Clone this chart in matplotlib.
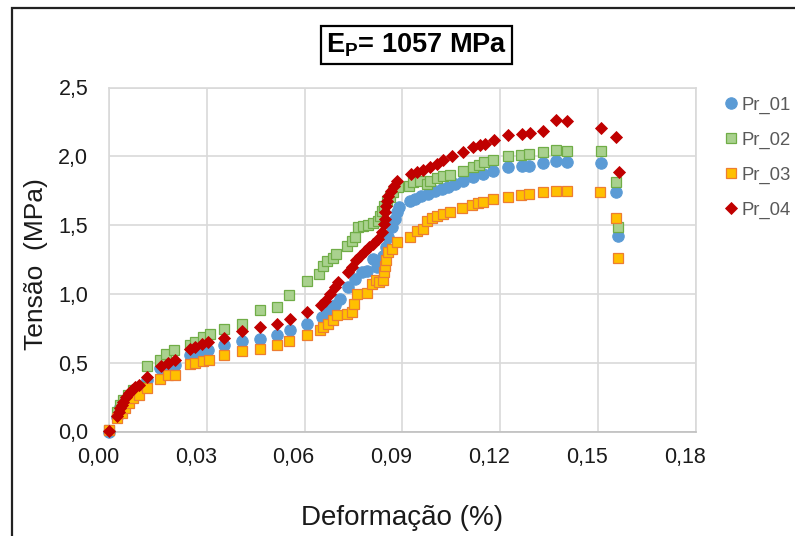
import matplotlib
matplotlib.use("Agg")
import matplotlib.pyplot as plt
from matplotlib.patches import Rectangle
from matplotlib.transforms import ScaledTranslation

plt.rcParams['font.family'] = ['Liberation Sans', 'DejaVu Sans']
plt.rcParams['mathtext.fontset'] = 'custom'
plt.rcParams['mathtext.rm'] = 'Liberation Sans'
plt.rcParams['mathtext.bf'] = 'Liberation Sans:bold'

# Strain (%) / stress (MPa) readings for each specimen
pr01_x = [0.0, 0.0023, 0.0034, 0.0044, 0.0059, 0.0075, 0.0090, 0.0116, 0.0156, 0.0182,
          0.0202, 0.0248, 0.0264, 0.0284, 0.0304, 0.0352, 0.0409, 0.0463, 0.0516, 0.0555,
          0.0606, 0.0652, 0.0673, 0.0693, 0.0708, 0.0734, 0.0754, 0.0775, 0.0790, 0.0810,
          0.0821, 0.0831, 0.0841, 0.0849, 0.0857, 0.0867, 0.0877, 0.0884, 0.0890, 0.0923,
          0.0938, 0.0958, 0.0979, 0.0999, 0.1020, 0.1040, 0.1061, 0.1087, 0.1117, 0.1148,
          0.1178, 0.1223, 0.1266, 0.1289, 0.1330, 0.1371, 0.1403, 0.1509, 0.1555, 0.1562]
pr01_y = [0.0, 0.107, 0.180, 0.204, 0.252, 0.288, 0.310, 0.373, 0.458, 0.475,
          0.482, 0.554, 0.567, 0.583, 0.591, 0.627, 0.656, 0.675, 0.704, 0.735,
          0.784, 0.832, 0.880, 0.917, 0.965, 1.049, 1.110, 1.158, 1.170, 1.255,
          1.194, 1.230, 1.279, 1.339, 1.412, 1.484, 1.545, 1.593, 1.629, 1.677,
          1.690, 1.714, 1.726, 1.750, 1.762, 1.774, 1.798, 1.822, 1.851, 1.871,
          1.895, 1.919, 1.931, 1.931, 1.953, 1.965, 1.960, 1.953, 1.738, 1.419]

pr02_x = [0.0, 0.0023, 0.0034, 0.0044, 0.0059, 0.0075, 0.0095, 0.0116, 0.0156, 0.0175,
          0.0200, 0.0248, 0.0264, 0.0287, 0.0310, 0.0352, 0.0409, 0.0463, 0.0514, 0.0553,
          0.0606, 0.0645, 0.0655, 0.0667, 0.0688, 0.0696, 0.0729, 0.0744, 0.0754, 0.0764,
          0.0779, 0.0795, 0.0810, 0.0826, 0.0831, 0.0836, 0.0843, 0.0851, 0.0862, 0.0872,
          0.0887, 0.0921, 0.0933, 0.0954, 0.0974, 0.0984, 0.1005, 0.1025, 0.1046, 0.1084,
          0.1115, 0.1135, 0.1151, 0.1178, 0.1223, 0.1262, 0.1289, 0.1332, 0.1371, 0.1403,
          0.1508, 0.1554, 0.1560]
pr02_y = [0.010, 0.144, 0.192, 0.228, 0.264, 0.301, 0.325, 0.475, 0.523, 0.562,
          0.591, 0.627, 0.651, 0.687, 0.712, 0.748, 0.779, 0.880, 0.904, 0.992,
          1.095, 1.141, 1.206, 1.238, 1.262, 1.291, 1.351, 1.388, 1.412, 1.484,
          1.496, 1.504, 1.513, 1.533, 1.569, 1.605, 1.641, 1.677, 1.701, 1.738,
          1.774, 1.786, 1.810, 1.822, 1.798, 1.822, 1.842, 1.858, 1.864, 1.895,
          1.919, 1.938, 1.955, 1.972, 2.003, 2.011, 2.020, 2.033, 2.045, 2.035,
          2.035, 1.810, 1.484]

pr03_x = [0.0, 0.0023, 0.0039, 0.0049, 0.0062, 0.0075, 0.0093, 0.0116, 0.0156, 0.0180,
          0.0202, 0.0248, 0.0264, 0.0289, 0.0307, 0.0352, 0.0409, 0.0463, 0.0516, 0.0553,
          0.0606, 0.0647, 0.0657, 0.0673, 0.0686, 0.0698, 0.0729, 0.0744, 0.0751, 0.0761,
          0.0790, 0.0805, 0.0818, 0.0829, 0.0841, 0.0843, 0.0846, 0.0849, 0.0857, 0.0867,
          0.0882, 0.0923, 0.0943, 0.0964, 0.0974, 0.0989, 0.1005, 0.1025, 0.1046, 0.1083,
          0.1112, 0.1132, 0.1148, 0.1178, 0.1223, 0.1262, 0.1289, 0.1332, 0.1371, 0.1403,
          0.1507, 0.1554, 0.1561]
pr03_y = [0.011, 0.096, 0.132, 0.168, 0.204, 0.241, 0.264, 0.313, 0.385, 0.409,
          0.409, 0.494, 0.499, 0.513, 0.523, 0.554, 0.583, 0.603, 0.632, 0.657,
          0.699, 0.735, 0.759, 0.784, 0.813, 0.844, 0.856, 0.868, 0.929, 1.001,
          1.009, 1.074, 1.098, 1.086, 1.098, 1.158, 1.206, 1.243, 1.303, 1.327,
          1.375, 1.412, 1.460, 1.472, 1.533, 1.552, 1.569, 1.581, 1.593, 1.624,
          1.648, 1.658, 1.665, 1.690, 1.706, 1.721, 1.723, 1.738, 1.750, 1.750,
          1.743, 1.549, 1.262]

pr04_x = [0.0001, 0.0026, 0.0030, 0.0034, 0.0039, 0.0044, 0.0052, 0.0060, 0.0070, 0.0080,
          0.0093, 0.0116, 0.0160, 0.0182, 0.0202, 0.0248, 0.0264, 0.0284, 0.0304, 0.0352,
          0.0409, 0.0463, 0.0516, 0.0555, 0.0608, 0.0649, 0.0662, 0.0678, 0.0693, 0.0703,
          0.0734, 0.0744, 0.0757, 0.0770, 0.0785, 0.0798, 0.0810, 0.0826, 0.0836, 0.0843,
          0.0847, 0.0846, 0.0849, 0.0854, 0.0857, 0.0864, 0.0874, 0.0884, 0.0925, 0.0943,
          0.0964, 0.0984, 0.1005, 0.1025, 0.1051, 0.1084, 0.1117, 0.1138, 0.1153, 0.1182,
          0.1225, 0.1266, 0.1291, 0.1332, 0.1371, 0.1405, 0.1509, 0.1555, 0.1563]
pr04_y = [0.006, 0.112, 0.144, 0.168, 0.192, 0.216, 0.248, 0.277, 0.300, 0.320,
          0.337, 0.397, 0.475, 0.499, 0.518, 0.603, 0.614, 0.639, 0.651, 0.683,
          0.728, 0.759, 0.784, 0.815, 0.868, 0.917, 0.948, 1.001, 1.049, 1.086,
          1.158, 1.194, 1.243, 1.279, 1.315, 1.339, 1.364, 1.400, 1.448, 1.509,
          1.545, 1.593, 1.641, 1.677, 1.714, 1.750, 1.786, 1.822, 1.871, 1.883,
          1.900, 1.924, 1.943, 1.972, 2.003, 2.034, 2.067, 2.081, 2.088, 2.117,
          2.153, 2.161, 2.168, 2.185, 2.264, 2.257, 2.209, 2.141, 1.883]

series_names = ["Pr_01", "Pr_02", "Pr_03", "Pr_04"]
x_ticks = [0.00, 0.03, 0.06, 0.09, 0.12, 0.15, 0.18]
x_tick_labels = ["0,00", "0,03", "0,06", "0,09", "0,12", "0,15", "0,18"]
y_ticks = [0.0, 0.5, 1.0, 1.5, 2.0, 2.5]
y_tick_labels = ["0,0", "0,5", "1,0", "1,5", "2,0", "2,5"]

styles = [
    dict(marker='o', ms=8.2, mfc='#5B9BD5', mec='#5B9BD5', mew=0.8),
    dict(marker='s', ms=7.5, mfc='#A9D18E', mec='#70AD47', mew=0.9),
    dict(marker='s', ms=7.5, mfc='#FFC000', mec='#ED7D31', mew=0.9),
    dict(marker='D', ms=6.5, mfc='#C00000', mec='#C00000', mew=0.6),
]

W, H = 795, 536
fig = plt.figure(figsize=(W / 100, H / 100), dpi=100)
ax = fig.add_axes([109 / W, 1 - 431.5 / H, (696 - 109) / W, (431.5 - 87.5) / H])

data = [(pr01_x, pr01_y), (pr02_x, pr02_y), (pr03_x, pr03_y), (pr04_x, pr04_y)]
handles = []
for (xs, ys), name, st in zip(data, series_names, styles):
    h, = ax.plot(xs, ys, linestyle='none', label=name, zorder=3, clip_on=False, **st)
    handles.append(h)

ax.set_xlim(0, 0.18)
ax.set_ylim(0, 2.5)
ax.set_xticks(x_ticks)
ax.set_xticklabels(x_tick_labels)
ax.set_yticks(y_ticks)
ax.set_yticklabels(y_tick_labels)
ax.grid(True, color='#D9D9D9', linewidth=1.2, zorder=0)
ax.set_axisbelow(True)
for side in ['top', 'right', 'left']:
    ax.spines[side].set_color('#D9D9D9')
    ax.spines[side].set_linewidth(1.2)
ax.spines['bottom'].set_color('#BFBFBF')
ax.spines['bottom'].set_linewidth(1.2)
ax.tick_params(axis='x', length=0, pad=11.5, labelsize=15.5, labelcolor='#1a1a1a')
ax.tick_params(axis='y', length=0, pad=15, labelsize=15.5, labelcolor='#1a1a1a')

# Excel-style x tick labels sit slightly left of their gridlines
shift = ScaledTranslation(-11 / 100, 0, fig.dpi_scale_trans)
for lbl in ax.get_xticklabels():
    lbl.set_transform(lbl.get_transform() + shift)

fig.text(402.5 / W, 1 - 518 / H, "Deformação (%)", fontsize=20, ha='center', va='center',
         color='#1a1a1a')
fig.text(36 / W, 1 - 264 / H, "Tensão  (MPa)", fontsize=19, ha='center', va='center',
         rotation=90, color='#1a1a1a')

fig.text(416.5 / W, 1 - 45 / H, r"$\mathbf{E_{P}}$= 1057 MPa", fontsize=19.5,
         fontweight='bold', ha='center', va='center',
         bbox=dict(boxstyle='square,pad=0.2', fc='white', ec='black', lw=1.6))

fig.legend(handles=handles, labels=series_names, loc='upper left',
           bbox_to_anchor=(725 / W, 1 - 96.5 / H), frameon=False, fontsize=13.3,
           labelcolor='#595959', handlelength=0.7, handletextpad=0.2,
           labelspacing=0.97, borderaxespad=0, borderpad=0)

fig.add_artist(Rectangle((12 / W, -0.1), 1.2, 1.1 - 8 / H, transform=fig.transFigure,
                         fill=False, ec='#222222', lw=1.6, clip_on=False))

fig.savefig("out.png", dpi=100)
